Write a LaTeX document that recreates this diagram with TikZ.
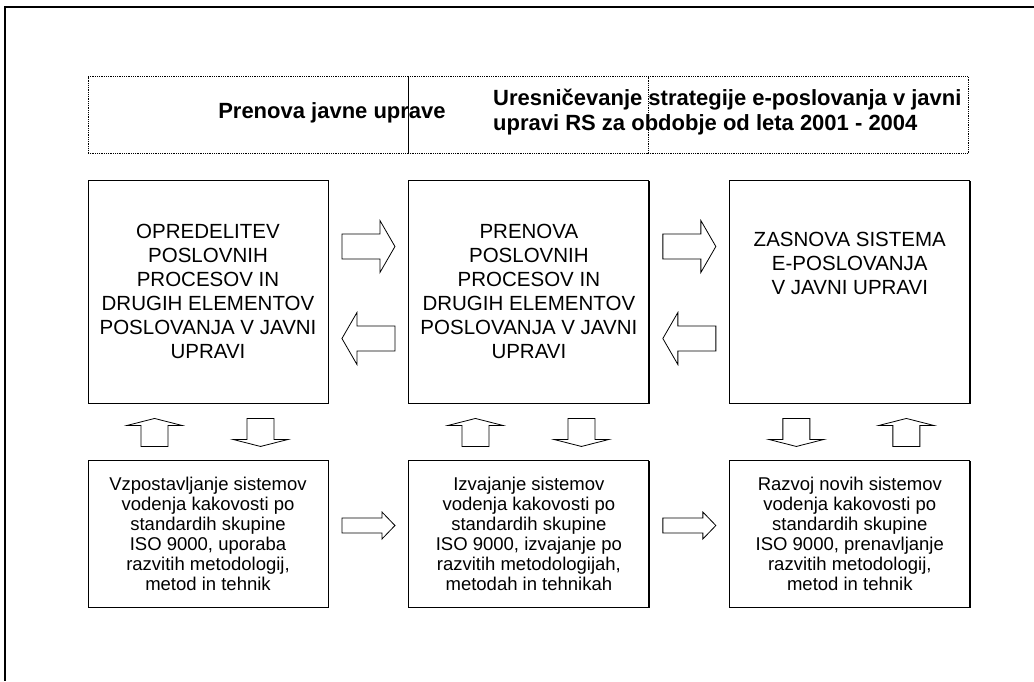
\documentclass[tikz,border=0pt]{standalone}
\usepackage{fontspec}
\setmainfont{Liberation Sans}
\usepackage{xcolor}
\usepackage{tikz}
\usetikzlibrary{calc,positioning,shadows}
\definecolor{Ink}{HTML}{000000}
\definecolor{Paper}{HTML}{FFFFFF}

\tikzset{
  phasebox/.style={draw=Ink,line width=0.9pt,fill=Paper,inner sep=0pt,
    minimum width=240pt,minimum height=223pt,align=center,
    font=\fontsize{20.5}{24}\selectfont,
    drop shadow={shadow xshift=1.2pt,shadow yshift=-1.2pt,fill=Ink,opacity=1}},
  qualitybox/.style={phasebox,minimum height=147pt,
    font=\fontsize{18.5}{20}\selectfont},
  headcell/.style={draw=Ink,line width=0.7pt,dash pattern=on 0.7pt off 1.1pt,
    minimum height=77pt,inner sep=0pt},
  headtext/.style={font=\bfseries\fontsize{22}{24.5}\selectfont,inner sep=0pt},
  arrowline/.style={draw=Ink,fill=Paper,line width=0.8pt,line join=miter},
}

% block arrow: position, angle, length, shaft, head width, head length, name
\newcommand{\blockarrow}[7]{%
  \begin{scope}[shift={#1},rotate=#2]
    \draw[arrowline] (-#3/2,-#4/2) -- (#3/2-#6,-#4/2) -- (#3/2-#6,-#5/2)
      -- (#3/2,0) -- (#3/2-#6,#5/2) -- (#3/2-#6,#4/2) -- (-#3/2,#4/2) -- cycle;
    \coordinate (#7) at (0,0);
  \end{scope}}

\begin{document}
\begin{tikzpicture}[x=1pt,y=-1pt]
  \useasboundingbox (0,0) rectangle (1034,681);
  % page frame
  \draw[Ink,line width=1.1pt] (1034,7) -- (5,7) -- (5,681);

  % header
  \node[headcell,minimum width=320pt] (headleft) at (248,115) {};
  \node[headcell,minimum width=240pt] (headmid) at (528,115) {};
  \node[headcell,minimum width=320pt] (headright) at (808,115) {};
  \node[headtext] (javnauprava) at (332,113) {Prenova javne uprave};
  \node[headtext,anchor=west,align=left] (strategija) at (493,112)
    {Uresničevanje strategije e-poslovanja v javni\\upravi RS za obdobje od leta 2001 - 2004};

  % upper row
  \node[phasebox] (opred) at (208,291.5)
    {OPREDELITEV\\POSLOVNIH\\PROCESOV IN\\DRUGIH ELEMENTOV\\POSLOVANJA V JAVNI\\UPRAVI};
  \node[phasebox,right=80pt of opred] (prenova)
    {PRENOVA\\POSLOVNIH\\PROCESOV IN\\DRUGIH ELEMENTOV\\POSLOVANJA V JAVNI\\UPRAVI};
  \node[phasebox,right=80pt of prenova] (zasnova) {};
  \node[align=center,inner sep=0pt,font=\fontsize{20.5}{24}\selectfont,anchor=north]
    (zasnovatxt) at ($(zasnova.north)+(0,52)$)
    {ZASNOVA SISTEMA\\E-POSLOVANJA\\V JAVNI UPRAVI};

  % lower row
  \node[qualitybox] (vzpostav) at (208,533.5)
    {Vzpostavljanje sistemov\\vodenja kakovosti po\\standardih skupine\\ISO 9000, uporaba\\razvitih metodologij,\\metod in tehnik};
  \node[qualitybox,right=80pt of vzpostav] (izvajanje)
    {Izvajanje sistemov\\vodenja kakovosti po\\standardih skupine\\ISO 9000, izvajanje po\\razvitih metodologijah,\\metodah in tehnikah};
  \node[qualitybox,right=80pt of izvajanje] (razvoj)
    {Razvoj novih sistemov\\vodenja kakovosti po\\standardih skupine\\ISO 9000, prenavljanje\\razvitih metodologij,\\metod in tehnik};

  % arrows between the upper boxes
  \blockarrow{($(opred.east)!0.5!(prenova.west)+(0,-45)$)}{0}{53}{25}{52}{15}{fwdone}
  \blockarrow{($(opred.east)!0.5!(prenova.west)+(0,47)$)}{180}{53}{25}{52}{15}{backone}
  \blockarrow{($(prenova.east)!0.5!(zasnova.west)+(0,-45)$)}{0}{53}{25}{52}{15}{fwdtwo}
  \blockarrow{($(prenova.east)!0.5!(zasnova.west)+(0,47)$)}{180}{53}{25}{52}{15}{backtwo}

  % arrows between the rows
  \blockarrow{($(opred.south west)+(67,29)$)}{90}{28}{27}{55}{7}{upone}
  \blockarrow{($(opred.south west)+(173,29)$)}{-90}{28}{27}{55}{7}{downone}
  \blockarrow{($(prenova.south west)+(67,29)$)}{90}{28}{27}{55}{7}{uptwo}
  \blockarrow{($(prenova.south west)+(173,29)$)}{-90}{28}{27}{55}{7}{downtwo}
  \blockarrow{($(zasnova.south west)+(67,29)$)}{-90}{28}{27}{55}{7}{downthree}
  \blockarrow{($(zasnova.south west)+(177,29)$)}{90}{28}{27}{55}{7}{upthree}

  % arrows between the lower boxes
  \blockarrow{($(vzpostav.east)!0.5!(izvajanje.west)+(0,-8)$)}{0}{53}{15}{27}{13}{stepone}
  \blockarrow{($(izvajanje.east)!0.5!(razvoj.west)+(0,-8)$)}{0}{53}{15}{27}{13}{steptwo}
\end{tikzpicture}
\end{document}
